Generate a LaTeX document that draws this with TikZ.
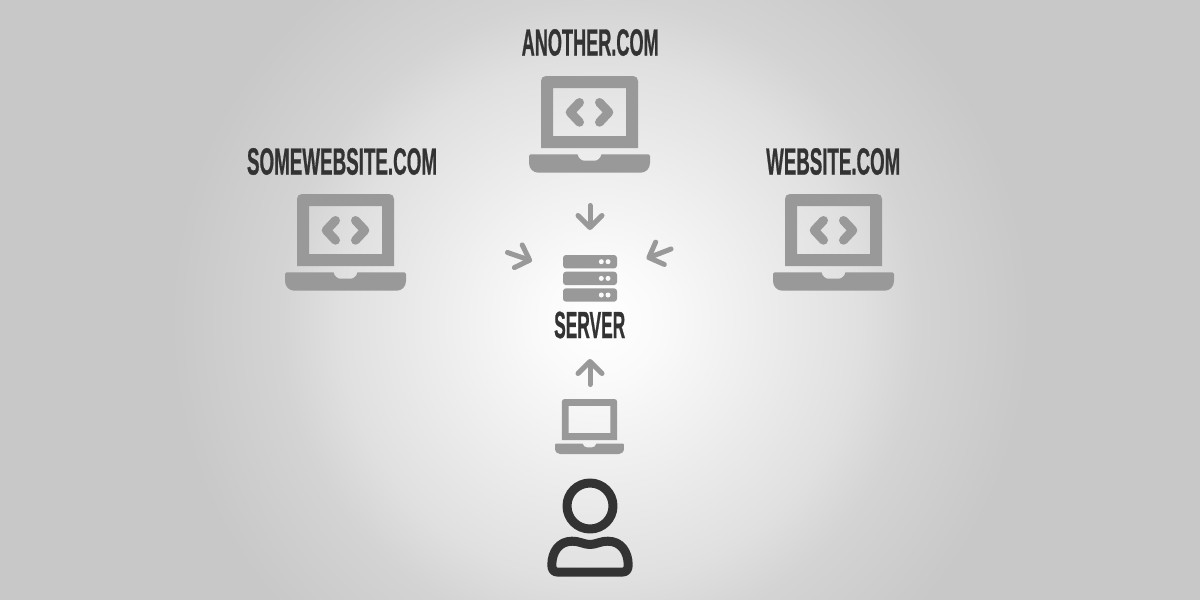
\documentclass[tikz,border=0pt]{standalone}
\usepackage{fontspec}
\usepackage{graphicx}
\setmainfont{Liberation Sans}
\newfontfamily\labelfont[FakeBold=1]{Liberation Sans Bold}
\usetikzlibrary{arrows.meta}
\definecolor{icongray}{HTML}{999999}
\definecolor{inkdark}{HTML}{333333}
\pgfdeclareradialshading{bgglow}{\pgfpoint{0bp}{0bp}}{
  color(0bp)=(white);
  color(2.14bp)=(white!98!black);
  color(9.3bp)=(white!87.8!black);
  color(11.4bp)=(white!83!black);
  color(15.4bp)=(white!78.4!black);
  color(50bp)=(white!78.4!black)}
\tikzset{
  label text/.style={inner sep=0pt,text=inkdark,font=\labelfont},
  flow arrow/.style={draw=icongray,line width=5pt,line cap=round,line join=round,
    -{Straight Barb[length=12pt,width=24pt,round]}},
  chevron/.style={draw=icongray,line width=9pt,line cap=round,line join=round},
  person line/.style={draw=inkdark,line width=9pt,line join=round},
}
\newcommand{\laptopshape}{%
  \fill[icongray,even odd rule]
    (-48.5,72) -- (-48.5,5) .. controls (-48.5,2) and (-46.5,0) .. (-43.5,0)
    -- (43.5,0) .. controls (46.5,0) and (48.5,2) .. (48.5,5) -- (48.5,72) -- cycle
    (-36.5,12) -- (36.5,12) -- (36.5,60) -- (-36.5,60) -- cycle;
  \fill[icongray]
    (-60.5,80) .. controls (-60.5,79) and (-60,78.3) .. (-59,78.3)
    -- (-12,78.3) .. controls (-11,82.5) and (-8,84.7) .. (-5,84.7)
    -- (5,84.7) .. controls (8,84.7) and (11,82.5) .. (12,78.3)
    -- (59,78.3) .. controls (60,78.3) and (60.5,79) .. (60.5,80)
    -- (60.5,87) .. controls (60.5,93) and (56,96.7) .. (51,96.7)
    -- (-51,96.7) .. controls (-56,96.7) and (-60.5,93) .. (-60.5,87) -- cycle;
}
\newcommand{\codemarks}{%
  \draw[chevron] (-10,26.5) -- (-19.3,36.3) -- (-10,46.2);
  \draw[chevron] (10,26.5) -- (19.3,36.3) -- (10,46.2);
}
\begin{document}
\begin{tikzpicture}[x=1pt,y=-1pt]
  \useasboundingbox (0,0) rectangle (1200,600);
  \begin{scope}
    \clip (0,0) rectangle (1200,600);
    \shade[shading=bgglow] (600,320) circle[radius=700];
  \end{scope}

  % labels
  \node[label text] (another) at (590.2,42.5) {\resizebox{137pt}{26.4pt}{ANOTHER.COM}};
  \node[label text] (somewebsite) at (342,161.5) {\resizebox{190pt}{26.4pt}{SOMEWEBSITE.COM}};
  \node[label text] (website) at (833.2,161.5) {\resizebox{134pt}{26.4pt}{WEBSITE.COM}};
  \node[label text] (server) at (589.7,325) {\resizebox{71pt}{26.4pt}{SERVER}};

  % laptops
  \begin{scope}[shift={(589.5,76)}]\laptopshape\codemarks\end{scope}
  \begin{scope}[shift={(345.5,194)}]\laptopshape\codemarks\end{scope}
  \begin{scope}[shift={(833.5,194)}]\laptopshape\codemarks\end{scope}
  \begin{scope}[shift={(589.5,399)},scale=.57]\laptopshape\end{scope}

  % server stack
  \foreach \ty in {255,271.7,288.3}{
    \fill[icongray,rounded corners=3pt] (563,\ty) rectangle (617,\ty+13.4);
    \fill[white!98!black] (601.3,\ty+6.7) circle[radius=2.5];
    \fill[white!98!black] (608,\ty+6.7) circle[radius=2.5];
  }

  % arrows
  \coordinate (topTail) at (590,205.5);
  \coordinate (topTip) at (590,230);
  \coordinate (leftTail) at (507.5,252.5);
  \coordinate (leftTip) at (532,261);
  \coordinate (rightTail) at (671,249);
  \coordinate (rightTip) at (646.5,258.5);
  \coordinate (bottomTail) at (590,384.5);
  \coordinate (bottomTip) at (590,359);
  \draw[flow arrow] (topTail) -- (topTip);
  \draw[flow arrow] (leftTail) -- (leftTip);
  \draw[flow arrow] (rightTail) -- (rightTip);
  \draw[flow arrow] (bottomTail) -- (bottomTip);

  % person
  \draw[person line] (590,506) circle[radius=23];
  \draw[person line]
    (590,544.5) .. controls (584,544.5) and (580,541.2) .. (572,541.2)
    .. controls (559,541.2) and (551.8,552) .. (551.8,565)
    .. controls (551.8,569) and (553.5,572) .. (557,572)
    -- (623,572)
    .. controls (626.5,572) and (628.2,569) .. (628.2,565)
    .. controls (628.2,552) and (621,541.2) .. (608,541.2)
    .. controls (600,541.2) and (596,544.5) .. (590,544.5) -- cycle;
\end{tikzpicture}
\end{document}
